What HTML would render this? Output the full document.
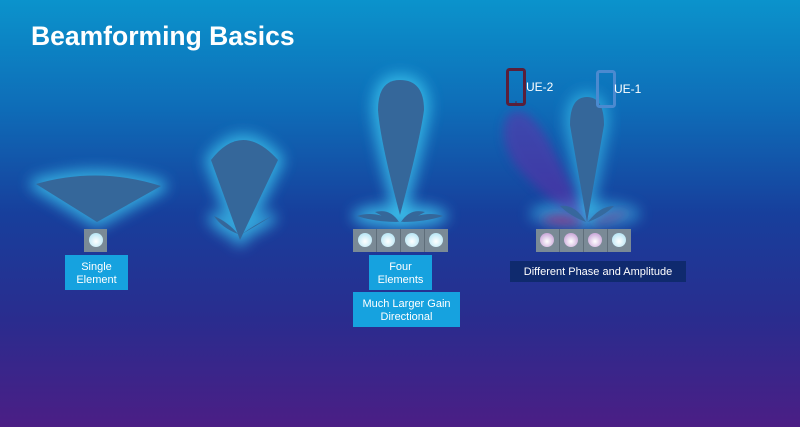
<!DOCTYPE html>
<html><head><style>
html,body{margin:0;padding:0}
body{width:800px;height:427px;overflow:hidden;font-family:"Liberation Sans",sans-serif}
</style></head><body>
<svg width="800" height="427" viewBox="0 0 800 427" xmlns="http://www.w3.org/2000/svg">
<defs>
<linearGradient id="bg" x1="0" y1="0" x2="0" y2="1">
<stop offset="0" stop-color="#0b93cc"/>
<stop offset="0.25" stop-color="#0e6db8"/>
<stop offset="0.5" stop-color="#173f9c"/>
<stop offset="0.75" stop-color="#2a2c8e"/>
<stop offset="1" stop-color="#4b1e85"/>
</linearGradient>
<filter id="glow" x="-50%" y="-50%" width="200%" height="200%">
<feGaussianBlur stdDeviation="7"/>
</filter>
<filter id="soft" x="-50%" y="-50%" width="200%" height="200%">
<feGaussianBlur stdDeviation="5"/>
</filter>
<radialGradient id="dot" cx="0.5" cy="0.6" r="0.6">
<stop offset="0" stop-color="#ffffff"/><stop offset="1" stop-color="#b8e6f5"/>
</radialGradient>
<radialGradient id="pdot" cx="0.5" cy="0.6" r="0.6">
<stop offset="0" stop-color="#ffffff"/><stop offset="1" stop-color="#c9a6d8"/>
</radialGradient>
</defs>
<rect width="800" height="427" fill="url(#bg)"/>
<text x="31" y="45" fill="#fff" font-size="26.5" font-weight="bold">Beamforming Basics</text>

<!-- single element fan -->
<g>
<path d="M36 184 Q98 166 161 186 L97 222 Z" fill="#3cc8f0" stroke="#3cc8f0" stroke-width="12" stroke-linejoin="round" filter="url(#glow)" opacity="0.75"/>
<path d="M36 184 Q98 166 161 186 L97 222 Z" fill="#35679a"/>
</g>
<rect x="84" y="229" width="23" height="23" fill="#7a8a96"/>
<circle cx="96" cy="240" r="7" fill="url(#dot)"/>
<rect x="65" y="255" width="63" height="35" fill="#16a2df"/>
<text x="96.5" y="270" fill="#fff" font-size="11" text-anchor="middle">Single</text>
<text x="96.5" y="283" fill="#fff" font-size="11" text-anchor="middle">Element</text>

<!-- second cone -->
<g>
<path d="M211 160 Q242 120 278 160 L240 240 Z M214 218 Q225 222 238 234 Q224 230 214 218 Z M270 218 Q258 226 242 234 Q258 225 270 218 Z" fill="#3cc8f0" stroke="#3cc8f0" stroke-width="12" stroke-linejoin="round" filter="url(#glow)" opacity="0.75"/>
<path d="M211 160 Q242 120 278 160 L240 240 Z" fill="#35679a"/>
<path d="M214 216 Q228 222 238 234 Q222 228 214 216 Z M272 216 Q256 226 242 234 Q256 224 272 216 Z" fill="#35679a"/>
</g>

<!-- four elements lobe -->
<g>
<path d="M400 80 Q424 80 424 110 Q420 140 400 215 Q380 140 378 110 Q378 80 400 80 Z" fill="#3cc8f0" stroke="#3cc8f0" stroke-width="12" stroke-linejoin="round" filter="url(#glow)" opacity="0.75"/>
<ellipse cx="400" cy="216" rx="48" ry="12" fill="#3cc8f0" filter="url(#glow)" opacity="0.8"/>
<path d="M400 80 Q424 80 424 110 Q420 140 400 215 Q380 140 378 110 Q378 80 400 80 Z" fill="#35679a"/>
<path d="M357 216 Q375 210 398 222 Q375 222 357 216 Z M375 212 Q390 208 399 222 Q385 218 375 212 Z M443 216 Q425 210 402 222 Q425 222 443 216 Z M425 212 Q410 208 401 222 Q415 218 425 212 Z" fill="#35679a"/>
</g>
<rect x="353" y="229" width="95" height="23" fill="#7a8a96"/>
<g stroke="#5f6e7a" stroke-width="1"><line x1="376.5" y1="229" x2="376.5" y2="252"/><line x1="400.5" y1="229" x2="400.5" y2="252"/><line x1="424.5" y1="229" x2="424.5" y2="252"/></g>
<circle cx="365" cy="240" r="7" fill="url(#dot)"/><circle cx="388" cy="240" r="7" fill="url(#dot)"/><circle cx="412" cy="240" r="7" fill="url(#dot)"/><circle cx="436" cy="240" r="7" fill="url(#dot)"/>
<rect x="369" y="255" width="63" height="35" fill="#16a2df"/>
<text x="400.5" y="270" fill="#fff" font-size="11" text-anchor="middle">Four</text>
<text x="400.5" y="283" fill="#fff" font-size="11" text-anchor="middle">Elements</text>
<rect x="353" y="292" width="107" height="35" fill="#16a2df"/>
<text x="406.5" y="307" fill="#fff" font-size="11" text-anchor="middle">Much Larger Gain</text>
<text x="406.5" y="320" fill="#fff" font-size="11" text-anchor="middle">Directional</text>

<!-- right: steered -->
<g>
<path d="M587 97 Q604 97 604 125 Q598 160 587 222 Q576 160 570 125 Q570 97 587 97 Z" fill="#3cc8f0" stroke="#3cc8f0" stroke-width="10" stroke-linejoin="round" filter="url(#glow)" opacity="0.6"/>
<ellipse cx="585" cy="214" rx="55" ry="13" fill="#3cc8f0" filter="url(#glow)" opacity="0.6"/>
<path d="M508 115 Q525 100 548 140 Q575 190 585 222 Q545 200 515 165 Q496 135 508 115 Z" fill="#6a2aa8" filter="url(#soft)" opacity="0.5"/>
<path d="M587 97 Q604 97 604 125 Q598 160 587 222 Q576 160 570 125 Q570 97 587 97 Z" fill="#35679a"/>
<path d="M540 220 Q560 208 585 224 Q560 228 540 220 Z M630 212 Q612 212 589 224 Q612 222 630 212 Z" fill="#9a2a80" filter="url(#soft)" opacity="0.8"/>
<path d="M560 206 Q575 204 586 222 Q570 216 560 206 Z M614 206 Q600 206 588 222 Q604 216 614 206 Z" fill="#35679a" opacity="0.9"/>
</g>
<rect x="536" y="229" width="95" height="23" fill="#7a8a96"/>
<g stroke="#5f6e7a" stroke-width="1"><line x1="559.5" y1="229" x2="559.5" y2="252"/><line x1="583.5" y1="229" x2="583.5" y2="252"/><line x1="607.5" y1="229" x2="607.5" y2="252"/></g>
<circle cx="547" cy="240" r="7" fill="url(#pdot)"/><circle cx="571" cy="240" r="7" fill="url(#pdot)"/><circle cx="595" cy="240" r="7" fill="url(#pdot)"/><circle cx="619" cy="240" r="7" fill="url(#dot)"/>
<rect x="510" y="261" width="176" height="21" fill="#0f2a6e"/>
<text x="598" y="275" fill="#fff" font-size="11" text-anchor="middle">Different Phase and Amplitude</text>

<!-- phones -->
<rect x="507.5" y="69.5" width="17" height="35" rx="2" fill="none" stroke="#5a1f3a" stroke-width="3"/>
<circle cx="516" cy="102" r="0.8" fill="#5a1f3a"/>
<rect x="597.5" y="71.5" width="17" height="35" rx="2" fill="none" stroke="#4b8ad0" stroke-width="3"/>
<text x="526" y="91" fill="#fff" font-size="12">UE-2</text>
<text x="614" y="93" fill="#fff" font-size="12">UE-1</text>
</svg>
</body></html>
